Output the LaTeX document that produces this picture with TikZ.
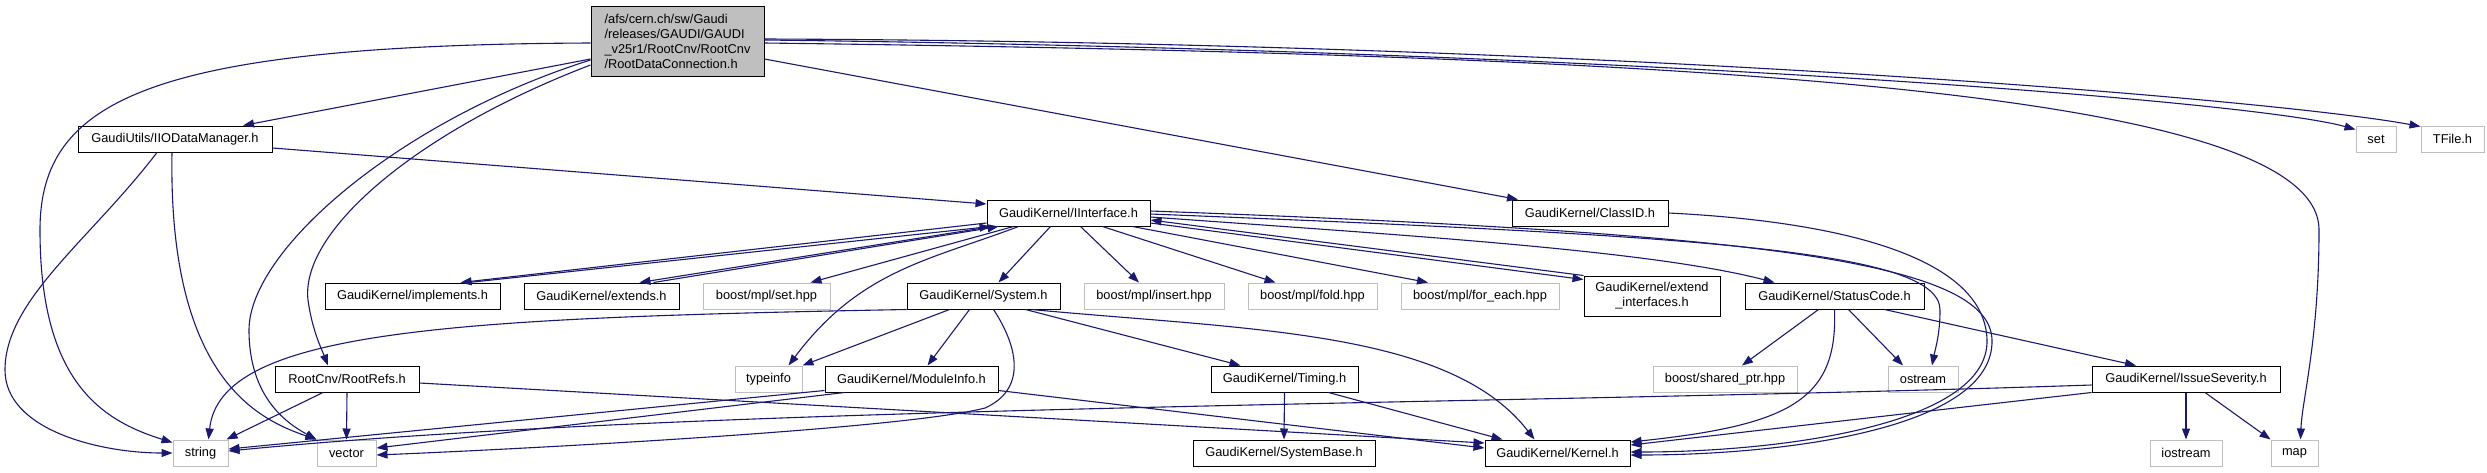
\documentclass[tikz,border=0pt]{standalone}
\usepackage{fontspec}
\setmainfont{Liberation Sans}
\usetikzlibrary{arrows.meta}
\definecolor{bleunuit}{HTML}{191970}
\definecolor{grisclair}{HTML}{BFBFBF}
\begin{document}
\begin{tikzpicture}[x=1pt,y=-1pt]
\tikzset{fichier/.style={draw=black, fill=white, line width=1pt, inner sep=0pt, minimum height=26pt, font=\fontsize{12.8}{15}\selectfont},
systeme/.style={fichier, draw=grisclair},
principal/.style={fichier, fill=grisclair, align=left, minimum height=70pt},
inclut/.style={draw=bleunuit, line width=1.1pt, -{Triangle[length=11pt,width=8pt]}}}
\useasboundingbox (0,0) rectangle (2487,472);
\node[principal, minimum width=173pt] (F1) at (677.5,41) {/afs/cern.ch/sw/Gaudi\\/releases/GAUDI/GAUDI\\\_v25r1/RootCnv/RootCnv\\/RootDataConnection.h};
\node[fichier, minimum width=194pt] (F2) at (175,139) {GaudiUtils/IIODataManager.h};
\node[fichier, minimum width=163pt] (F3) at (1068.5,213) {GaudiKernel/IInterface.h};
\node[fichier, minimum width=156pt] (F4) at (1590,213) {GaudiKernel/ClassID.h};
\node[systeme, minimum width=40pt] (F5) at (2376,139) {set};
\node[systeme, minimum width=63pt] (F6) at (2452.5,139) {TFile.h};
\node[fichier, minimum width=175pt] (F7) at (412.5,296) {GaudiKernel/implements.h};
\node[fichier, minimum width=155pt] (F8) at (601.5,296) {GaudiKernel/extends.h};
\node[systeme, minimum width=127pt] (F9) at (766.5,296) {boost/mpl/set.hpp};
\node[fichier, minimum width=153pt] (F10) at (983.5,296) {GaudiKernel/System.h};
\node[systeme, minimum width=140pt] (F11) at (1154,296) {boost/mpl/insert.hpp};
\node[systeme, minimum width=129pt] (F12) at (1312.5,296) {boost/mpl/fold.hpp};
\node[systeme, minimum width=158pt] (F13) at (1480,296) {boost/mpl/for\_each.hpp};
\node[fichier, minimum width=136pt, minimum height=40pt, align=center] (F14) at (1652,296) {GaudiKernel/extend\\\_interfaces.h};
\node[fichier, minimum width=179pt] (F15) at (1834.5,296) {GaudiKernel/StatusCode.h};
\node[fichier, minimum width=144pt] (F16) at (347,379) {RootCnv/RootRefs.h};
\node[systeme, minimum width=67pt] (F17) at (768.5,379) {typeinfo};
\node[fichier, minimum width=173pt] (F18) at (911.5,379) {GaudiKernel/ModuleInfo.h};
\node[fichier, minimum width=147pt] (F19) at (1284.5,379) {GaudiKernel/Timing.h};
\node[systeme, minimum width=144pt] (F20) at (1725,379) {boost/shared\_ptr.hpp};
\node[systeme, minimum width=70pt] (F21) at (1923,379) {ostream};
\node[fichier, minimum width=188pt] (F22) at (2186,379) {GaudiKernel/IssueSeverity.h};
\node[systeme, minimum width=55pt] (F23) at (200.5,453) {string};
\node[systeme, minimum width=59pt] (F24) at (346.5,453) {vector};
\node[fichier, minimum width=182pt] (F25) at (1284,453) {GaudiKernel/SystemBase.h};
\node[fichier, minimum width=145pt] (F26) at (1557.5,453) {GaudiKernel/Kernel.h};
\node[systeme, minimum width=72pt] (F27) at (2186,453) {iostream};
\node[systeme, minimum width=47pt] (F28) at (2294.5,453) {map};
\draw[inclut] ([yshift=-2pt]F1.west) .. controls (150,45) and (40,100) .. (40,230) .. controls (40,380) and (100,420) .. ([yshift=-3pt]F23.north west);
\draw[inclut] ([yshift=-18pt]F1.west) -- ([xshift=68pt]F2.north);
\draw[inclut] ([yshift=-19pt]F1.west) .. controls (400,120) and (249,250) .. (249,330) .. controls (249,400) and (290,425) .. (F24.north west);
\draw[inclut] ([yshift=-24pt]F1.west) .. controls (420,130) and (300,230) .. (308,300) .. controls (312,330) and (322,350) .. ([xshift=-19pt]F16.north);
\draw[inclut] ([yshift=-18pt]F1.east) -- ([xshift=-72pt]F4.north);
\draw[inclut] ([yshift=1pt]F1.east) .. controls (1600,50) and (2250,100) .. ([yshift=-4pt]F5.north west);
\draw[inclut] ([yshift=2pt]F1.east) .. controls (1600,42) and (2280,100) .. ([yshift=-1pt]F6.north west);
\draw[inclut] ([yshift=-2pt]F1.east) .. controls (1700,55) and (2319,90) .. (2319,230) .. controls (2319,340) and (2302,400) .. ([xshift=6pt]F28.north);
\draw[inclut] ([yshift=-9pt]F2.east) -- ([yshift=9pt]F3.west);
\draw[inclut] ([xshift=-18pt]F2.south) .. controls (90,240) and (5,300) .. (5,370) .. controls (5,430) and (100,453) .. (F23.west);
\draw[inclut] ([xshift=-3pt]F2.south) .. controls (168,380) and (260,420) .. (F24.north west);
\draw[inclut] ([yshift=-10pt]F3.west) -- ([xshift=48pt]F7.north);
\draw[inclut] ([xshift=56pt]F7.north) -- ([xshift=4pt]F3.south west);
\draw[inclut] ([xshift=6pt]F3.south west) -- ([xshift=38pt]F8.north);
\draw[inclut] ([xshift=52pt]F8.north) -- ([xshift=12pt]F3.south west);
\draw[inclut] ([xshift=-55pt]F3.south) -- ([xshift=44pt]F9.north);
\draw[inclut] ([xshift=-50pt]F3.south) .. controls (930,260) and (860,270) .. ([xshift=20pt]F17.north);
\draw[inclut] ([xshift=-18pt]F3.south) -- ([xshift=15pt]F10.north);
\draw[inclut] ([xshift=12pt]F3.south) -- ([xshift=-15pt]F11.north);
\draw[inclut] ([xshift=34pt]F3.south) -- ([xshift=-37pt]F12.north);
\draw[inclut] ([xshift=64pt]F3.south) -- ([xshift=-52pt]F13.north);
\draw[inclut] ([yshift=-10pt]F3.east) -- ([yshift=-4pt]F14.north west);
\draw[inclut] (F14.north west) -- ([yshift=-7pt]F3.east);
\draw[inclut] ([yshift=-4pt]F3.east) .. controls (1400,235) and (1650,250) .. ([xshift=-60pt]F15.north);
\draw[inclut] ([yshift=-1pt]F3.east) .. controls (1700,236) and (1940,250) .. (1940,310) .. controls (1940,335) and (1935,350) .. ([xshift=9pt]F21.north);
\draw[inclut] ([yshift=2pt]F3.east) .. controls (1750,233) and (1990,260) .. (1992,340) .. controls (1994,430) and (1780,455) .. ([yshift=-2pt]F26.east);
\draw[inclut] (F4.east) .. controls (1850,222) and (1985,260) .. (1987,340) .. controls (1989,425) and (1780,452) .. ([yshift=1pt]F26.east);
\draw[inclut] (F10.south west) .. controls (450,318) and (220,330) .. ([xshift=8pt]F23.north);
\draw[inclut] ([xshift=-34pt]F10.south) -- (F17.north east);
\draw[inclut] ([xshift=-14pt]F10.south) -- ([xshift=16pt]F18.north);
\draw[inclut] ([xshift=10pt]F10.south) .. controls (1020,350) and (1025,390) .. (985,408) .. controls (900,430) and (500,450) .. ([yshift=-2pt]F24.east);
\draw[inclut] ([xshift=42pt]F10.south) -- ([xshift=-44pt]F19.north);
\draw[inclut] ([xshift=48pt]F10.south) .. controls (1250,330) and (1450,330) .. ([xshift=-23pt]F26.north);
\draw[inclut] ([xshift=-24pt]F16.south) -- ([xshift=26pt]F23.north);
\draw[inclut] (F16.south) -- (F24.north);
\draw[inclut] ([yshift=-4pt]F16.east) -- ([yshift=10pt]F26.west);
\draw[inclut] ([yshift=2pt]F18.south west) -- ([yshift=4pt]F23.east);
\draw[inclut] ([xshift=20pt]F18.south west) -- ([yshift=5pt]F24.east);
\draw[inclut] ([yshift=2pt]F18.south east) -- ([yshift=5pt]F26.west);
\draw[inclut] (F19.south) -- (F25.north);
\draw[inclut] ([xshift=44pt]F19.south) -- ([xshift=-55pt]F26.north);
\draw[inclut] ([xshift=-16pt]F15.south) -- ([xshift=17pt]F20.north);
\draw[inclut] ([xshift=14pt]F15.south) -- ([xshift=-20pt]F21.north);
\draw[inclut] ([xshift=50pt]F15.south) -- ([xshift=-50pt]F22.north);
\draw[inclut] (F15.south) .. controls (1838,400) and (1790,425) .. ([yshift=11pt]F26.east);
\draw[inclut] (F22.south) -- (F27.north);
\draw[inclut] ([xshift=19pt]F22.south) -- (F28.north west);
\draw[inclut] ([yshift=-6pt]F22.west) .. controls (1500,405) and (700,405) .. ([yshift=2pt]F23.east);
\draw[inclut] (F22.south west) -- ([yshift=8pt]F26.east);
\end{tikzpicture}
\end{document}
